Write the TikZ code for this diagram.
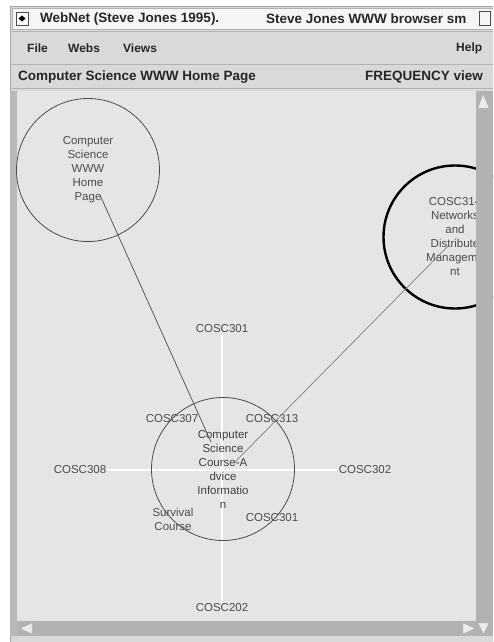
\documentclass[tikz,border=0pt]{standalone}
\usepackage{fontspec}
\setmainfont{Liberation Sans}
\usetikzlibrary{positioning}
\definecolor{chrome}{gray}{0.85}
\definecolor{canvas}{gray}{0.90}
\definecolor{scroll}{gray}{0.70}
\definecolor{ink}{gray}{0.30}
\tikzset{
  {page circle/.style} ={circle,draw=ink,line width=0.8pt,inner sep=0,
                  minimum size=143pt,align=center,text=ink,
                  font=\fontsize{11.5}{14}\selectfont},
  {open page/.style} ={page circle,draw=black,line width=2.4pt},
  {course label/.style} ={text=ink,inner sep=1pt,align=center,
                  font=\fontsize{11.5}{14}\selectfont},
  {link/.style} ={draw=ink,line width=0.7pt},
  {axis/.style} ={draw=white,line width=1.6pt},
  {menu item/.style} ={anchor=west,inner sep=0,text=black!85,
                  font=\bfseries\fontsize{12}{14}\selectfont},
  {title text/.style} ={anchor=west,inner sep=0,text=black!85,
                  font=\bfseries\fontsize{13.5}{15}\selectfont},
  {arrow box/.style} ={fill=gray!15,draw=gray!60,line width=0.4pt},
}
\begin{document}
\begin{tikzpicture}[x=1pt,y=-1pt]
\useasboundingbox (0,0) rectangle (493,642);
\clip (0,0) rectangle (493,642);
\fill[white] (0,0) rectangle (493,642);
% window and title bar
\draw[fill=chrome,draw=gray!70] (10,6) rectangle (505,650);
\draw[fill=gray!8,draw=gray!60] (12,8) rectangle (505,29);
\draw[fill=white,draw=black!70] (16,12) rectangle (28,25);
\fill[black] (22,15.5) -- (25.5,18.5) -- (22,21.5) -- (18.5,18.5) -- cycle;
\node[title text] (wtitle) at (40,19) {WebNet (Steve Jones 1995).};
\node[title text] (wsub) at (266,19) {Steve Jones WWW browser sm};
\draw[fill=gray!8,draw=black!70] (479,11) rectangle (490,25);
\draw[gray!60] (12,31) -- (505,31);
% menu and status line
\node[menu item] (mfile) at (27,48) {File};
\node[menu item] (mwebs) at (68,48) {Webs};
\node[menu item] (mviews) at (123,48) {Views};
\node[menu item] (mhelp) at (456,48) {Help};
\draw[gray!60] (12,64) -- (505,64);
\node[title text] (status) at (18,77) {Computer Science WWW Home Page};
\node[title text] (mode) at (365,77) {FREQUENCY view};
\draw[gray!60] (12,88) -- (505,88);
% canvas
\fill[gray!55] (10,91) rectangle (17,636);
\fill[canvas] (17,91) rectangle (476,621);
% course labels
\node[course label] (c301) at (222,329) {COSC301};
\node[course label] (c308) at (80,470) {COSC308};
\node[course label] (c302) at (365,470) {COSC302};
\node[course label] (c202) at (222,608) {COSC202};
\draw[axis] (c301.south) -- (c202.north);
\draw[axis] (c308.east) -- (c302.west);
\node[course label] (c307) at (172,419) {COSC307};
\node[course label] (c313) at (272,419) {COSC313};
\node[course label] (c301b) at (272,518) {COSC301};
\node[course label] (survival) at (173,519) {Survival\\Course};
% pages
\node[page circle] (home) at (88,170) {Computer\\Science\\WWW\\Home\\Page};
\node[open page] (network) at (455,237) {COSC314\\Networks\\and\\Distribute\\Manageme\\nt};
\node[page circle,text=black!75] (centre) at (223,469) {Computer\\Science\\Course-A\\dvice\\Informatio\\n};
% links
\coordinate (home end) at (100,195);
\coordinate (centre end) at (211,442);
\coordinate (network end) at (448,246);
\coordinate (centre end b) at (235,462);
\draw[link] (home end) -- (centre end);
\draw[link,draw=gray] (network end) -- (centre end b);
% scroll bars
\fill[scroll] (476,91) rectangle (493,621);
\fill[scroll] (17,621) rectangle (493,636);
\draw[arrow box] (478,108) -- (483,94) -- (489,108) -- cycle;
\draw[arrow box] (32,623) -- (20,628.5) -- (32,634) -- cycle;
\draw[arrow box] (463,623) -- (475,628.5) -- (463,634) -- cycle;
\draw[arrow box] (478,623) -- (489,623) -- (483.5,634) -- cycle;
\end{tikzpicture}
\end{document}
